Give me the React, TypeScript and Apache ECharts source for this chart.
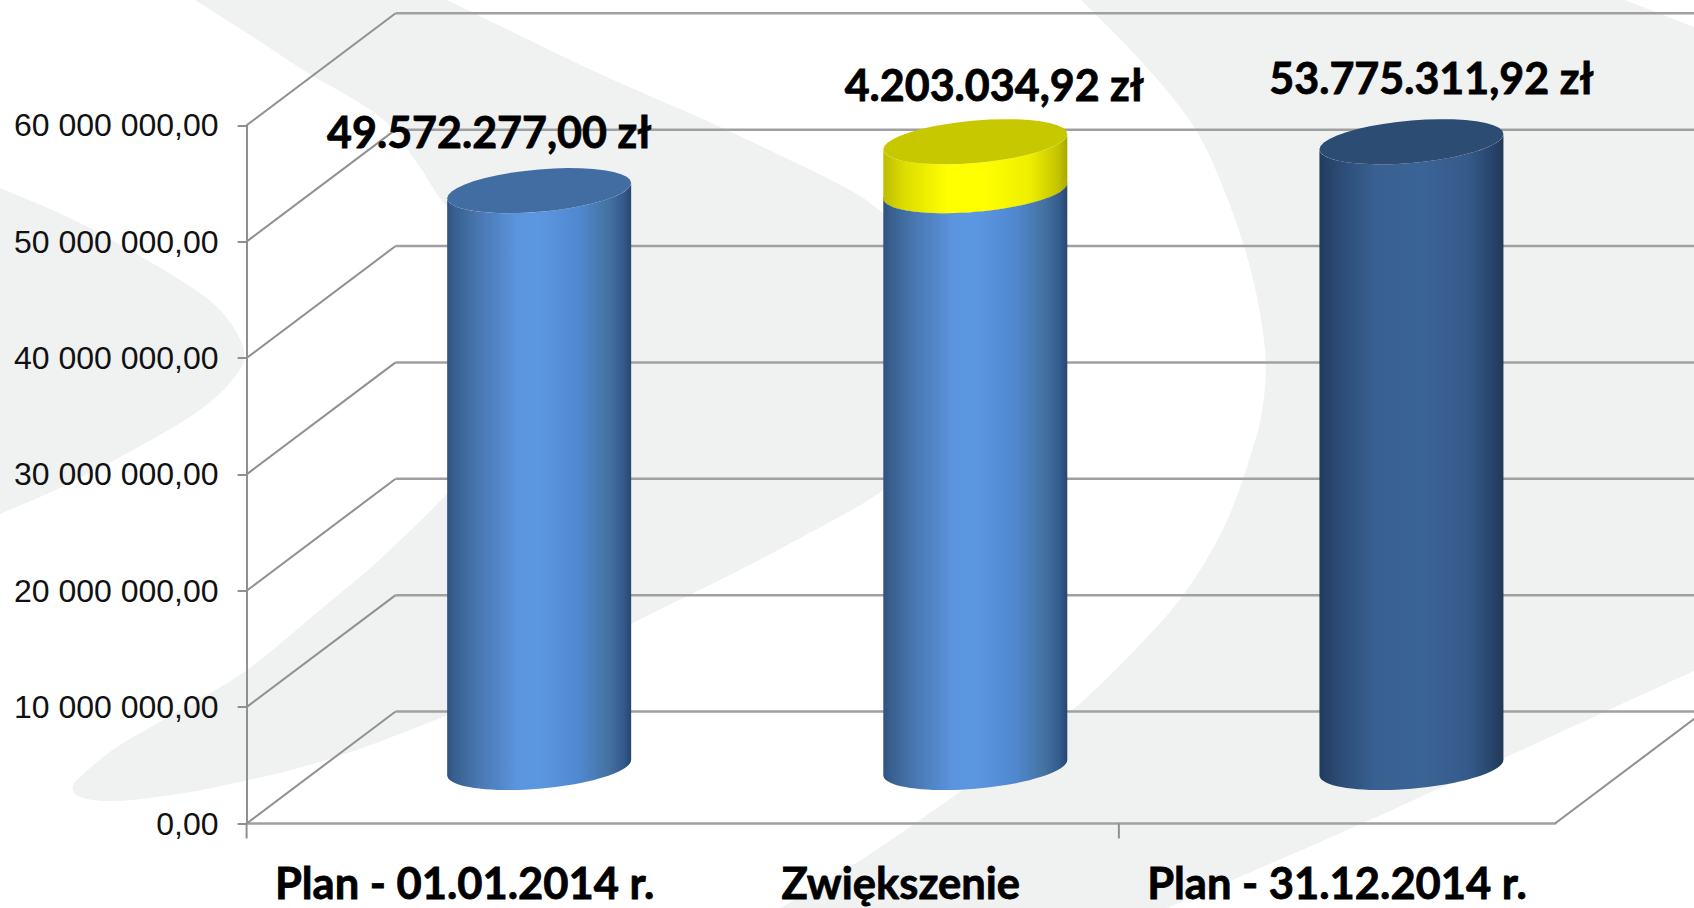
import React, { useEffect, useRef } from "react";
import * as echarts from "echarts";

const categories = ["Plan - 01.01.2014 r.", "Zwiększenie", "Plan - 31.12.2014 r."];
const planStart = [0, 0, 0];
const planEnd = [49572277, 49572277, 53775311.92];
const increaseStart = [49572277];
const increaseEnd = [53775311.92];
const labelAnchors = [49572277, 53775311.92, 53775311.92];
const dataLabels = ["49.572.277,00 zł", "4.203.034,92 zł", "53.775.311,92 zł"];
const yTicks = [0, 10000000, 20000000, 30000000, 40000000, 50000000, 60000000];
const yTickLabels = ["0,00", "10 000 000,00", "20 000 000,00", "30 000 000,00", "40 000 000,00", "50 000 000,00", "60 000 000,00"];

const DEPTH = { x: 149, y: -112 };
const MID = { x: DEPTH.x / 2, y: DEPTH.y / 2 };
const RX = 92;
const SKEW = 7.7;
const RY = 21.2;
const LABEL_OFFSETS = [[-50, -59], [19, -57], [20, -64]];
const LINE = "#a0a0a0";
const DIAG = "#909090";
const BG = "#f0f2f1";
const FONT = "Lato";

const grad = (stops: [number, string][]) =>
  new echarts.graphic.LinearGradient(0, 0, 1, 0, stops.map(([offset, color]) => ({ offset, color })));

const blueBody = () => grad([[0, "#2f5181"], [0.04, "#38608f"], [0.16, "#4875af"], [0.38, "#5b95de"], [0.5, "#5b97e1"], [0.72, "#5088cf"], [0.88, "#44719f"], [0.96, "#335a8c"], [1, "#284670"]]);
const navyBody = () => grad([[0, "#223b5d"], [0.1, "#2b4a74"], [0.3, "#386090"], [0.55, "#3b6496"], [0.8, "#355b8b"], [0.93, "#29466e"], [1, "#213857"]]);
const yellowBody = () => grad([[0, "#bdbd00"], [0.12, "#dede00"], [0.35, "#ffff00"], [0.55, "#ffff00"], [0.8, "#eeee00"], [0.95, "#c4c400"], [1, "#a8a800"]]);

const TOPS = ["#426da2", "#426da2", "#2c4c74"];

function arc(cx: number, cy: number, from: number, to: number) {
  const pts: number[][] = [];
  const n = 40;
  for (let i = 0; i <= n; i++) {
    const t = from + ((to - from) * i) / n;
    pts.push([cx + Math.cos(t) * RX, cy - Math.cos(t) * SKEW + Math.sin(t) * RY]);
  }
  return pts;
}

function cylinderChildren(cx: number, yBase: number, yTop: number, body: any, top: string) {
  const x = cx + MID.x;
  const bottom = yBase + MID.y;
  const upper = yTop + MID.y;
  const bodyPts = [...arc(x, bottom, 0, Math.PI), ...arc(x, upper, Math.PI, 0)];
  const lid = arc(x, upper, 0, Math.PI * 2);
  return [
    { type: "polygon", shape: { points: bodyPts }, style: { fill: body } },
    { type: "polygon", shape: { points: lid }, style: { fill: top } },
  ];
}

function splinePath(runs: number[][][]) {
  let d = "";
  runs.forEach((p, r) => {
    d += `${r === 0 ? "M" : "L"}${p[0][0]} ${p[0][1]}`;
    for (let i = 0; i < p.length - 1; i++) {
      const a = p[Math.max(0, i - 1)];
      const b = p[i];
      const c = p[i + 1];
      const e = p[Math.min(p.length - 1, i + 2)];
      d += `C${b[0] + (c[0] - a[0]) / 6} ${b[1] + (c[1] - a[1]) / 6} ${c[0] - (e[0] - b[0]) / 6} ${c[1] - (e[1] - b[1]) / 6} ${c[0]} ${c[1]}`;
    }
  });
  return d + "Z";
}

const swooshLobe = [[[0, 188], [70, 218], [135, 253], [185, 283], [217, 307], [238, 335], [244, 360], [228, 385], [200, 410], [165, 432], [122, 456], [60, 488], [0, 514]]];
const swooshCrescent = [
  [[447, 0], [596, 72], [705, 120], [790, 160], [850, 190], [883, 213], [960, 275], [1020, 335], [1040, 370]],
  [[1040, 370], [960, 440], [882, 491], [850, 511], [740, 570], [631, 624], [530, 678], [433, 721], [320, 762], [217, 787], [150, 798], [108, 801], [80, 797], [73, 786], [90, 768], [120, 745], [163, 720], [244, 672], [320, 610], [379, 560], [447, 494], [500, 435], [535, 350], [505, 265], [447, 207], [417, 163], [380, 117], [303, 70], [250, 35], [195, 0]],
];
const swooshRight = [
  [[1081, 0], [1140, 60], [1194, 127], [1228, 200], [1252, 275], [1265, 350], [1263, 405], [1251, 454], [1225, 525], [1184, 594], [1130, 655], [1071, 711], [1000, 763], [920, 820], [850, 867], [780, 908]],
  [[1167, 908], [1361, 824], [1550, 737], [1694, 671]],
  [[1694, 27], [1625, 0]],
];

echarts.graphic.registerShape("swooshLobe", echarts.graphic.extendPath(splinePath(swooshLobe), {}) as any);
echarts.graphic.registerShape("swooshCrescent", echarts.graphic.extendPath(splinePath(swooshCrescent), {}) as any);
echarts.graphic.registerShape("swooshRight", echarts.graphic.extendPath(splinePath(swooshRight), {}) as any);

export default function App() {
  const ref = useRef<HTMLDivElement>(null);
  useEffect(() => {
    const chart = echarts.init(ref.current!, null, { renderer: "svg" });
    chart.setOption({
      animation: false,
      backgroundColor: "#ffffff",
      graphic: {
        elements: [
          { type: "swooshLobe", x: 0, y: 0, z: -5, silent: true, style: { fill: BG } },
          { type: "swooshCrescent", x: 0, y: 0, z: -5, silent: true, style: { fill: BG } },
          { type: "swooshRight", x: 0, y: 0, z: -5, silent: true, style: { fill: BG } },
        ],
      },
      grid: { left: 246.6, right: 139, top: 125.3, bottom: 84.5 },
      xAxis: {
        type: "category",
        data: categories,
        axisLine: { show: true, lineStyle: { color: LINE, width: 2.5 } },
        axisTick: { show: false },
        axisLabel: {
          interval: 0,
          margin: 36,
          color: "#000",
          fontFamily: FONT,
          fontWeight: "bold",
          fontSize: 43.5,
          textBorderColor: "#000",
          textBorderWidth: 0.8,
        },
      },
      yAxis: {
        type: "value",
        min: 0,
        max: 60000000,
        interval: 10000000,
        splitLine: { show: false },
        axisLine: { show: true, lineStyle: { color: DIAG, width: 2 } },
        axisTick: { show: true, length: 9, lineStyle: { color: DIAG, width: 2 } },
        axisLabel: {
          margin: 28,
          color: "#111",
          fontFamily: "Liberation Sans",
          fontSize: 32,
          formatter: (v: number) => yTickLabels[yTicks.indexOf(v)],
        },
      },
      series: [
        {
          type: "custom",
          name: "frame",
          z: 1,
          silent: true,
          clip: false,
          data: yTicks.map((v) => [0, v]),
          encode: { x: 0, y: 1 },
          renderItem: (params: any, api: any) => {
            const cs = params.coordSys;
            const v = api.value(1);
            const y = api.coord([0, v])[1];
            const left = cs.x;
            const right = cs.x + cs.width;
            const children: any[] = [
              { type: "line", shape: { x1: left, y1: y, x2: left + DEPTH.x, y2: y + DEPTH.y }, style: { stroke: DIAG, lineWidth: 2 } },
              { type: "line", shape: { x1: left + DEPTH.x, y1: y + DEPTH.y, x2: right + DEPTH.x, y2: y + DEPTH.y }, style: { stroke: LINE, lineWidth: 2.5 } },
            ];
            if (v === 0) {
              const boundary = left + (cs.width * 2) / 3;
              children.push(
                { type: "line", shape: { x1: right, y1: y, x2: right + DEPTH.x, y2: y + DEPTH.y }, style: { stroke: DIAG, lineWidth: 2 } },
                { type: "line", shape: { x1: left, y1: y, x2: left, y2: y + 15 }, style: { stroke: DIAG, lineWidth: 2 } },
                { type: "line", shape: { x1: boundary, y1: y, x2: boundary, y2: y + 15 }, style: { stroke: DIAG, lineWidth: 2 } }
              );
            }
            return { type: "group", children };
          },
        },
        {
          type: "custom",
          name: "Plan",
          z: 3,
          clip: false,
          data: categories.map((_, i) => [i, planStart[i], planEnd[i]]),
          encode: { x: 0, y: 2 },
          renderItem: (_: any, api: any) => {
            const i = api.value(0);
            const base = api.coord([i, api.value(1)]);
            const top = api.coord([i, api.value(2)]);
            const body = i === 2 ? navyBody() : blueBody();
            return { type: "group", children: cylinderChildren(base[0], base[1], top[1], body, TOPS[i]) };
          },
        },
        {
          type: "custom",
          name: "Zwiększenie",
          z: 4,
          clip: false,
          data: increaseStart.map((s, i) => [1, s, increaseEnd[i]]),
          encode: { x: 0, y: 2 },
          renderItem: (_: any, api: any) => {
            const i = api.value(0);
            const base = api.coord([i, api.value(1)]);
            const top = api.coord([i, api.value(2)]);
            return { type: "group", children: cylinderChildren(base[0], base[1], top[1], yellowBody(), "#c8c800") };
          },
        },
        {
          type: "custom",
          name: "labels",
          z: 5,
          silent: true,
          clip: false,
          data: categories.map((_, i) => [i, labelAnchors[i]]),
          encode: { x: 0, y: 1 },
          renderItem: (_: any, api: any) => {
            const i = api.value(0);
            const p = api.coord([i, api.value(1)]);
            return {
              type: "text",
              x: p[0] + MID.x + LABEL_OFFSETS[i][0],
              y: p[1] + MID.y + LABEL_OFFSETS[i][1],
              style: {
                text: dataLabels[i],
                fill: "#000",
                stroke: "#000",
                lineWidth: 0.8,
                font: `bold 43px ${FONT}`,
                align: "center",
                verticalAlign: "middle",
              },
            };
          },
        },
      ],
    });
    return () => chart.dispose();
  }, []);
  return <div ref={ref} style={{ position: "fixed", left: 0, top: 0, width: 1694, height: 908 }} />;
}
